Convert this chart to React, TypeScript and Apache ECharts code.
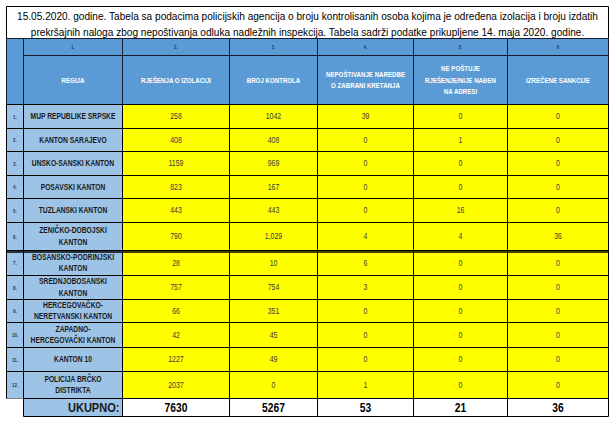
import React, { useEffect, useRef } from "react";
import * as echarts from "echarts";

// ---------- DATA ----------
const titleLines = [
  "15.05.2020. godine. Tabela sa podacima policijskih agencija o broju kontrolisanih osoba kojima je određena izolacija i broju izdatih",
  "prekršajnih naloga zbog nepoštivanja odluka nadležnih inspekcija. Tabela sadrži podatke prikupljene 14. maja 2020. godine.",
];
const columnNumbers = ["1.", "2.", "3.", "4.", "5.", "6"];
const columnHeaders = [
  "REGIJA",
  "RJEŠENJA O IZOLACIJI",
  "BROJ KONTROLA",
  "NEPOŠTIVANJE NAREDBE\nO ZABRANI KRETANJA",
  "NE POŠTUJE\nRJEŠENJE/NIJE NAĐEN\nNA ADRESI",
  "IZREČENE SANKCIJE",
];
const rowNumbers = ["1.", "2.", "3.", "4.", "5.", "6.", "7.", "8.", "9.", "10.", "11.", "12."];
const regions = [
  "MUP REPUBLIKE SRPSKE",
  "KANTON SARAJEVO",
  "UNSKO-SANSKI KANTON",
  "POSAVSKI KANTON",
  "TUZLANSKI KANTON",
  "ZENIČKO-DOBOJSKI\nKANTON",
  "BOSANSKO-PODRINJSKI\nKANTON",
  "SREDNJOBOSANSKI\nKANTON",
  "HERCEGOVAČKO-\nNERETVANSKI KANTON",
  "ZAPADNO-\nHERCEGOVAČKI KANTON",
  "KANTON 10",
  "POLICIJA BRČKO\nDISTRIKTA",
];
const rjesenjaOIzolaciji = [258, 408, 1159, 823, 443, 790, 28, 757, 66, 42, 1227, 2037];
const brojKontrola = ["1042", "408", "969", "167", "443", "1,029", "10", "754", "351", "45", "49", "0"];
const nepostivanjeNaredbe = [39, 0, 0, 0, 0, 4, 6, 3, 0, 0, 0, 1];
const nePostujeRjesenje = [0, 1, 0, 0, 16, 4, 0, 0, 0, 0, 0, 0];
const izreceneSankcije = [0, 0, 0, 0, 0, 36, 0, 0, 0, 0, 0, 0];
const totalLabel = "UKUPNO:";
const totals = [7630, 5267, 53, 21, 36];

// ---------- LAYOUT / STYLE ----------
const COL_W = [16.7, 99, 107, 88, 96.3, 93.7, 101.3];
const TITLE_H = 32;
const NUM_H = 17;
const HEAD_H = 49;
const ROW_H = [23.6, 23.6, 23.6, 23.6, 23.6, 28.5, 24.5, 24, 22.5, 25, 24.5, 27];
const TOTAL_H = 18;
const FONT = '"Liberation Sans", Arial, sans-serif';
const SQUEEZE = 0.82;
const BLUE = "#5B9BD5";
const LIGHT = "#9DC3E6";
const YELLOW = "#FFFF00";

type Cell = {
  x0: number; x1: number; y0: number; y1: number;
  fill: string; stroke: string | null;
  text?: string; size?: number; weight?: string; color?: string;
  align?: string; lh?: number; pad?: number; dy?: number; sx?: number;
};

function buildCells(): Cell[] {
  const xs = [0];
  COL_W.forEach((w) => xs.push(xs[xs.length - 1] + w));
  const cells: Cell[] = [];
  const W = xs[xs.length - 1];
  cells.push({ x0: 0, x1: W, y0: 0, y1: TITLE_H, fill: "#ffffff", stroke: "#000", text: titleLines.join("\n"), size: 11, weight: "normal", color: "#000", lh: 15.5, dy: 1.5, sx: 0.92 });
  const yNum = TITLE_H;
  const yHead = TITLE_H + NUM_H;
  const yBody = yHead + HEAD_H;
  cells.push({ x0: xs[0], x1: xs[1], y0: yNum, y1: yBody, fill: BLUE, stroke: "#1a1a2e" });
  for (let c = 0; c < 6; c++) {
    cells.push({ x0: xs[c + 1], x1: xs[c + 2], y0: yNum, y1: yHead, fill: BLUE, stroke: "#1a1a2e", text: columnNumbers[c], size: 5.5, weight: "bold", color: "#1F3864" });
    cells.push({ x0: xs[c + 1], x1: xs[c + 2], y0: yHead, y1: yBody, fill: BLUE, stroke: "#1a1a2e", text: columnHeaders[c], size: 7.5, weight: "bold", color: "#ffffff", lh: 11.5 });
  }
  let y = yBody;
  const valueCols = [rjesenjaOIzolaciji, brojKontrola, nepostivanjeNaredbe, nePostujeRjesenje, izreceneSankcije];
  for (let r = 0; r < regions.length; r++) {
    const h = ROW_H[r];
    cells.push({ x0: xs[0], x1: xs[1], y0: y, y1: y + h, fill: LIGHT, stroke: "#000", text: rowNumbers[r], size: 5.5, weight: "bold", color: "#1F3864" });
    cells.push({ x0: xs[1], x1: xs[2], y0: y, y1: y + h, fill: LIGHT, stroke: "#000", text: regions[r], size: 8.2, weight: "bold", color: "#1a1a1a", lh: 11.5 });
    valueCols.forEach((col, k) => {
      cells.push({ x0: xs[k + 2], x1: xs[k + 3], y0: y, y1: y + h, fill: YELLOW, stroke: "#000", text: String(col[r]), size: 8.5, weight: "normal", color: "#3a3a3a" });
    });
    y += h;
  }
  cells.push({ x0: xs[0], x1: xs[1], y0: y, y1: y + TOTAL_H, fill: "#ffffff", stroke: null });
  cells.push({ x0: xs[1], x1: xs[2], y0: y, y1: y + TOTAL_H, fill: LIGHT, stroke: "#000", text: totalLabel, size: 13.5, weight: "bold", color: "#1a1a1a", align: "right", pad: 3 });
  totals.forEach((t, k) => {
    cells.push({ x0: xs[k + 2], x1: xs[k + 3], y0: y, y1: y + TOTAL_H, fill: "#ffffff", stroke: "#000", text: String(t), size: 12.5, weight: "bold", color: "#000" });
  });
  return cells;
}

const cells = buildCells();
const TOTAL_W = COL_W.reduce((a, b) => a + b, 0);
const TOTAL_HEIGHT = TITLE_H + NUM_H + HEAD_H + ROW_H.reduce((a, b) => a + b, 0) + TOTAL_H;
const thickLineY = TITLE_H + NUM_H + HEAD_H + ROW_H.slice(0, 6).reduce((a, b) => a + b, 0);

export default function App() {
  const ref = useRef<HTMLDivElement>(null);
  useEffect(() => {
    if (!ref.current) return;
    const chart = echarts.init(ref.current, null, { renderer: "svg" });
    const px = (v: number) => Math.round(v) + 0.5;
    chart.setOption({
      animation: false,
      backgroundColor: "#ffffff",
      grid: { left: 6, top: 6, width: TOTAL_W, height: TOTAL_HEIGHT },
      xAxis: { type: "value", min: 0, max: TOTAL_W, show: false },
      yAxis: { type: "value", min: 0, max: TOTAL_HEIGHT, inverse: true, show: false },
      series: [
        {
          type: "custom",
          silent: true,
          clip: false,
          data: cells.map((c, i) => [c.x0, c.y0, c.x1, c.y1, i]),
          renderItem: (params: any, api: any) => {
            const c = cells[api.value(4)];
            const p0 = api.coord([api.value(0), api.value(1)]);
            const p1 = api.coord([api.value(2), api.value(3)]);
            const x0 = px(p0[0]), y0 = px(p0[1]), x1 = px(p1[0]), y1 = px(p1[1]);
            const children: any[] = [
              {
                type: "rect",
                shape: { x: x0, y: y0, width: x1 - x0, height: y1 - y0 },
                style: { fill: c.fill, stroke: c.stroke || "none", lineWidth: c.stroke ? 1 : 0 },
              },
            ];
            if (c.text) {
              const right = c.align === "right";
              children.push({
                type: "text",
                x: right ? x1 - (c.pad || 0) : (x0 + x1) / 2,
                y: (y0 + y1) / 2 + (c.dy || 0),
                scaleX: c.sx || SQUEEZE,
                style: {
                  text: c.text,
                  x: 0,
                  y: 0,
                  align: right ? "right" : "center",
                  verticalAlign: "middle",
                  fontFamily: FONT,
                  fontSize: c.size,
                  fontWeight: c.weight,
                  fill: c.color,
                  lineHeight: c.lh,
                },
              });
            }
            return { type: "group", children };
          },
        },
        {
          type: "custom",
          silent: true,
          clip: false,
          data: [[0, thickLineY, TOTAL_W, thickLineY]],
          renderItem: (params: any, api: any) => {
            const p0 = api.coord([api.value(0), api.value(1)]);
            const p1 = api.coord([api.value(2), api.value(3)]);
            return {
              type: "line",
              shape: { x1: px(p0[0]), y1: Math.round(p0[1]) + 1, x2: px(p1[0]), y2: Math.round(p1[1]) + 1 },
              style: { stroke: "#000", lineWidth: 1.5 },
            };
          },
        },
      ],
    });
    return () => chart.dispose();
  }, []);
  return <div ref={ref} style={{ position: "absolute", left: 0, top: 0, width: 615, height: 426 }} />;
}
